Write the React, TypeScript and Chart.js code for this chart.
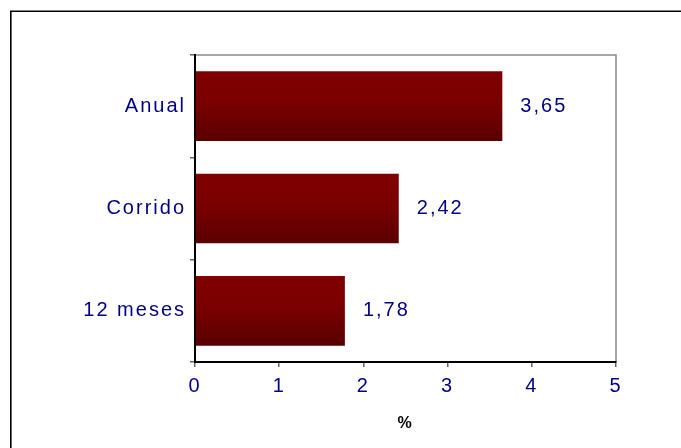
import React, { useEffect, useRef } from "react";
import { Chart, registerables } from "chart.js";

Chart.register(...registerables);

const CATEGORIES = ["Anual", "Corrido", "12 meses"];
const VALUES = [3.65, 2.42, 1.78];
const X_TICKS = [0, 1, 2, 3, 4, 5];
const AXIS_TITLE = "%";

const NAVY = "#000080";
const FONT = "'Liberation Sans', Arial, sans-serif";
const SPACING = "2px";
const SIZE = 20;

const fmt = (v: number) => v.toFixed(2).replace(".", ",");

export default function App() {
  const ref = useRef<HTMLCanvasElement | null>(null);

  useEffect(() => {
    if (!ref.current) return;
    const framePlugin = {
      id: "frame",
      beforeDraw(chart: any) {
        const ctx = chart.ctx;
        const a = chart.chartArea;
        ctx.save();
        ctx.fillStyle = "#ffffff";
        ctx.fillRect(0, 0, chart.width, chart.height);
        ctx.strokeStyle = "#000000";
        ctx.lineWidth = 1.6;
        ctx.beginPath();
        ctx.moveTo(10.8, chart.height + 2);
        ctx.lineTo(10.8, 11.3);
        ctx.lineTo(chart.width + 2, 11.3);
        ctx.stroke();
        ctx.strokeStyle = "#8a8a8a";
        ctx.lineWidth = 1.5;
        ctx.beginPath();
        ctx.moveTo(a.left, a.top);
        ctx.lineTo(a.right, a.top);
        ctx.lineTo(a.right, a.bottom);
        ctx.stroke();
        ctx.restore();
        (ctx as any).letterSpacing = SPACING;
      },
      afterDatasetsDraw(chart: any) {
        const ctx = chart.ctx;
        const meta = chart.getDatasetMeta(0);
        ctx.save();
        (ctx as any).letterSpacing = SPACING;
        ctx.font = `${SIZE}px ${FONT}`;
        ctx.fillStyle = NAVY;
        ctx.textAlign = "left";
        ctx.textBaseline = "middle";
        meta.data.forEach((el: any, i: number) => {
          ctx.fillText(fmt(VALUES[i]), el.x + 18, el.y);
        });
        ctx.restore();
      },
    };

    const chart = new Chart(ref.current, {
      type: "bar",
      data: {
        labels: CATEGORIES,
        datasets: [
          {
            data: VALUES,
            categoryPercentage: 1,
            barPercentage: 0.68,
            borderWidth: 0,
            backgroundColor: (c: any) => {
              const ch = c.chart;
              const ys = ch.scales && ch.scales.y;
              if (!ys || c.dataIndex == null || !ys.height) return "#7a0000";
              const center = ys.getPixelForValue(c.dataIndex);
              const half = ((ys.height / CATEGORIES.length) * 0.68) / 2;
              const g = ch.ctx.createLinearGradient(0, center - half, 0, center + half);
              g.addColorStop(0, "#800000");
              g.addColorStop(0.4, "#7c0000");
              g.addColorStop(1, "#5a0000");
              return g;
            },
          },
        ],
      },
      options: {
        indexAxis: "y",
        responsive: false,
        animation: false,
        devicePixelRatio: 1,
        layout: { padding: { top: 55, right: 65, bottom: 0, left: 0 } },
        plugins: {
          legend: { display: false },
          tooltip: { enabled: false },
          title: { display: false },
        },
        scales: {
          x: {
            type: "linear",
            min: X_TICKS[0],
            max: X_TICKS[X_TICKS.length - 1],
            afterBuildTicks: (s: any) => {
              s.ticks = X_TICKS.map((v) => ({ value: v }));
            },
            afterFit: (s: any) => {
              s.height = 86;
            },
            ticks: {
              color: NAVY,
              font: { family: FONT, size: SIZE },
              padding: 7,
              maxRotation: 0,
              callback: (v: any) => String(v),
            },
            grid: {
              drawOnChartArea: false,
              tickLength: 5,
              color: "#666666",
              lineWidth: 1.5,
            },
            border: { display: true, color: "#000000", width: 2 },
            title: {
              display: true,
              text: AXIS_TITLE,
              color: "#000000",
              font: { family: FONT, size: 16, weight: "bold" },
              padding: { top: 10, bottom: 15 },
            },
          },
          y: {
            type: "category",
            offset: true,
            afterFit: (s: any) => {
              s.width = 195;
            },
            ticks: {
              color: NAVY,
              font: { family: FONT, size: SIZE },
              padding: 4,
            },
            grid: {
              offset: true,
              drawOnChartArea: false,
              tickLength: 5,
              color: "#666666",
              lineWidth: 1.5,
            },
            border: { display: true, color: "#000000", width: 2 },
          },
        },
      },
      plugins: [framePlugin],
    } as any);

    return () => chart.destroy();
  }, []);

  return (
    <div style={{ position: "absolute", left: 0, top: 0, width: 681, height: 448 }}>
      <canvas ref={ref} width={681} height={448} style={{ width: 681, height: 448, display: "block" }} />
    </div>
  );
}
